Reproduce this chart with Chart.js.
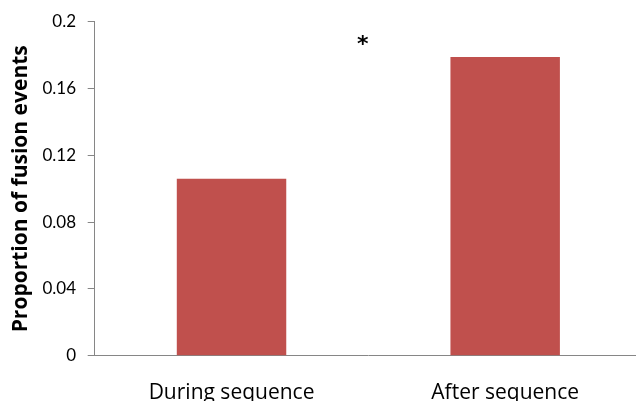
<!DOCTYPE html>
<html>
<head>
<meta charset="utf-8">
<script src="https://cdn.jsdelivr.net/npm/chart.js@4"></script>
<style>
	html, body { margin: 0; padding: 0; background: #fff; overflow: hidden; }
	#wrap { width: 636px; height: 401px; overflow: hidden; }
</style>
</head>
<body>
<div id="wrap"><canvas id="myChart" width="642" height="401"></canvas></div>
<script>
// dados
const categorias = ["During sequence", "After sequence"];
const proporcoes = [0.106, 0.179];
const ticksY = [0, 0.04, 0.08, 0.12, 0.16, 0.2];
const tituloY = "Proportion of fusion events";
const marcaSignif = "*";
const posSignif = [0.48, 0.188]; // indice da categoria, valor (centro do asterisco)

const cinza = "#868686";

const asterisco = {
	id: "asterisco",
	afterDatasetsDraw(chart) {
		const { ctx, scales } = chart;
		const tam = 22;
		ctx.save();
		ctx.font = `bold ${tam}px "DejaVu Sans"`;
		ctx.fillStyle = "#000";
		ctx.textAlign = "center";
		ctx.textBaseline = "alphabetic";
		ctx.fillText(marcaSignif, scales.x.getPixelForValue(posSignif[0]), scales.y.getPixelForValue(posSignif[1]) + tam * 0.41);
		ctx.restore();
	},
};

new Chart(document.getElementById("myChart"), {
	type: "bar",
	data: {
		labels: categorias,
		datasets: [
			{
				data: proporcoes,
				backgroundColor: "#C0504D",
				borderWidth: 0,
				barPercentage: 0.4,
				categoryPercentage: 1,
			},
		],
	},
	options: {
		responsive: false,
		animation: false,
		layout: { padding: { top: 21, right: 0, left: 0, bottom: 0 } },
		plugins: { legend: { display: false }, tooltip: { enabled: false } },
		scales: {
			x: {
				grid: { display: false },
				border: { display: true, color: cinza, width: 1 },
				ticks: { color: "#000", font: { family: "Open Sans", size: 21 }, padding: 17, maxRotation: 0 },
				afterFit: (s) => { s.height = 45.3; },
			},
			y: {
				min: 0,
				max: 0.2,
				afterBuildTicks: (s) => { s.ticks = ticksY.map((v) => ({ value: v })); },
				grid: { drawOnChartArea: false, tickLength: 7, color: cinza },
				border: { display: true, color: cinza, width: 1 },
				ticks: {
					color: "#000",
					font: { family: "Lato", size: 17 },
					padding: 11.7,
					callback: (v) => String(Number(v.toFixed(2))),
				},
				title: {
					display: true,
					text: tituloY,
					color: "#000",
					font: { family: "Open Sans", size: 21, weight: "bold" },
					padding: { top: 8, bottom: 2 },
				},
				afterFit: (s) => { s.width = 94.7; },
			},
		},
	},
	plugins: [asterisco],
});
</script>
</body>
</html>
